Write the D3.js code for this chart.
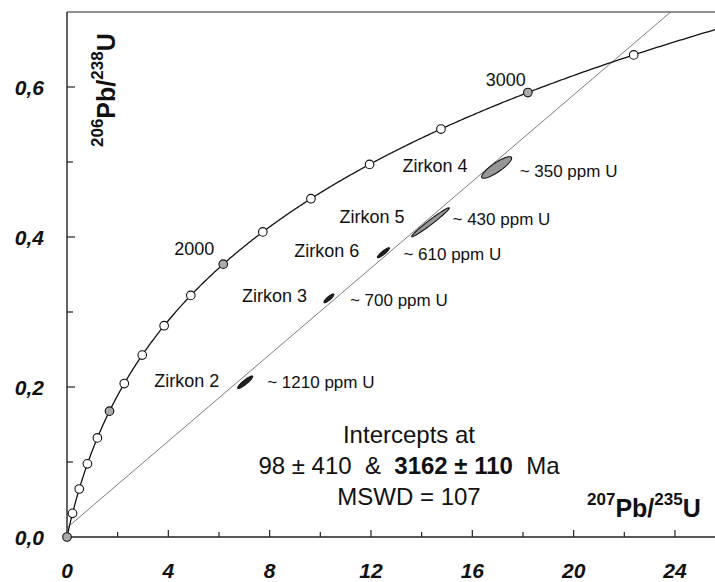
<!DOCTYPE html>
<html>
<head>
<meta charset="utf-8">
<script src="https://cdn.jsdelivr.net/npm/d3@7"></script>
<style>
  html, body { margin: 0; padding: 0; background: #fff; }
  svg { display: block; font-family: "Liberation Sans", Arial, sans-serif; }
</style>
</head>
<body>
<svg id="chart" width="715" height="582"></svg>
<script>
// U-Pb decay constants (per year)
const lambda238 = 1.55125e-10;
const lambda235 = 9.8485e-10;

// Concordia age markers (Ma), filled markers every 1000 Ma
const markerAges = [0, 200, 400, 600, 800, 1000, 1200, 1400, 1600, 1800, 2000,
  2200, 2400, 2600, 2800, 3000, 3200];
const labelledAges = [2000, 3000];

// Zircon analyses: 207Pb/235U, 206Pb/238U, 1-sigma half-extents, error correlation
const zircons = ["Zirkon 2", "Zirkon 3", "Zirkon 6", "Zirkon 5", "Zirkon 4"];
const ratio207_235 = [7.035, 10.34, 12.49, 14.35, 16.96];
const ratio206_238 = [0.2064, 0.3182, 0.379, 0.4197, 0.4927];
const err207_235 = [0.296, 0.197, 0.237, 0.742, 0.592];
const err206_238 = [0.0083, 0.0058, 0.0067, 0.0193, 0.0144];
const errCorr = [0.91, 0.87, 0.91, 0.98, 0.86];
const uranium = [1210, 700, 610, 430, 350];

// Discordia intercepts (Ma) and fit quality
const lowerIntercept = 98, lowerErr = 410;
const upperIntercept = 3162, upperErr = 110;
const mswd = 107;

// Axis ticks
const xTickLabels = [0, 4, 8, 12, 16, 20, 24];
const yTickLabels = [0.0, 0.2, 0.4, 0.6];

const svg = d3.select("#chart");
const W = 715, H = 582;
const mLeft = 67, mTop = 12, mBottom = 537;

const x = d3.scaleLinear().domain([0, 25.58]).range([mLeft, W]);
const y = d3.scaleLinear().domain([0, 0.7]).range([mBottom, mTop]);

const conc = t => [Math.exp(lambda235 * t * 1e6) - 1, Math.exp(lambda238 * t * 1e6) - 1];

svg.append("defs").append("clipPath").attr("id", "plotClip")
  .append("rect").attr("x", mLeft).attr("y", mTop).attr("width", W - mLeft).attr("height", mBottom - mTop);

const plot = svg.append("g").attr("clip-path", "url(#plotClip)");

// Discordia line through the two intercepts, extended across the plot
const pLo = conc(lowerIntercept), pHi = conc(upperIntercept);
const slope = (pHi[1] - pLo[1]) / (pHi[0] - pLo[0]);
const dLine = d => pLo[1] + slope * (d - pLo[0]);
const xEnd = pLo[0] + (0.72 - pLo[1]) / slope;
plot.append("line")
  .attr("x1", x(0)).attr("y1", y(dLine(0)))
  .attr("x2", x(xEnd)).attr("y2", y(dLine(xEnd)))
  .attr("stroke", "#444").attr("stroke-width", 0.7);

// Concordia curve
const curveAges = d3.range(0, 3400, 5);
plot.append("path")
  .datum(curveAges.map(conc))
  .attr("d", d3.line().x(d => x(d[0])).y(d => y(d[1])))
  .attr("fill", "none").attr("stroke", "#111").attr("stroke-width", 1.3);

// Error ellipses
const ellipsePts = i => d3.range(0, 361, 4).map(a => {
  const th = a * Math.PI / 180;
  const r = errCorr[i];
  return [ratio207_235[i] + err207_235[i] * Math.cos(th),
          ratio206_238[i] + err206_238[i] * (r * Math.cos(th) + Math.sqrt(1 - r * r) * Math.sin(th))];
});
plot.selectAll("path.ell").data(zircons).join("path")
  .attr("class", "ell")
  .attr("d", (d, i) => d3.line().x(p => x(p[0])).y(p => y(p[1]))(ellipsePts(i)) + "Z")
  .attr("fill", (d, i) => err207_235[i] > 0.5 ? "#969696" : "#222")
  .attr("stroke", "#111").attr("stroke-width", 1.1);

// Axes frame
const axisColor = "#222";
svg.append("line").attr("x1", mLeft).attr("x2", mLeft).attr("y1", mTop).attr("y2", mBottom)
  .attr("stroke", axisColor).attr("stroke-width", 1.4);
svg.append("line").attr("x1", mLeft).attr("x2", W).attr("y1", mBottom).attr("y2", mBottom)
  .attr("stroke", axisColor).attr("stroke-width", 1.4);
svg.append("line").attr("x1", mLeft).attr("x2", W).attr("y1", mTop).attr("y2", mTop)
  .attr("stroke", axisColor).attr("stroke-width", 1.2);

// Inward ticks
const fmt = d3.format(".1f");
const xTicks = d3.range(0, 26, 2);
svg.selectAll("line.xt").data(xTicks.filter(d => d > 0)).join("line")
  .attr("class", "xt")
  .attr("x1", d => x(d)).attr("x2", d => x(d))
  .attr("y1", mBottom).attr("y2", d => mBottom - (d % 4 === 0 ? 7 : 5))
  .attr("stroke", axisColor).attr("stroke-width", 1.2);
const yTicks = d3.range(1, 7).map(d => d / 10);
svg.selectAll("line.yt").data(yTicks).join("line")
  .attr("class", "yt")
  .attr("x1", mLeft).attr("x2", (d, i) => mLeft + ((i + 1) % 2 === 0 ? 8 : 6))
  .attr("y1", d => y(d)).attr("y2", d => y(d))
  .attr("stroke", axisColor).attr("stroke-width", 1.2);

// Tick labels
svg.selectAll("text.xl").data(xTickLabels).join("text")
  .attr("class", "xl")
  .attr("x", d => x(d)).attr("y", 578)
  .attr("text-anchor", "middle")
  .attr("font-size", 21).attr("font-weight", "bold").attr("font-style", "italic")
  .attr("fill", "#111")
  .text(d => d);
svg.selectAll("text.yl").data(yTickLabels).join("text")
  .attr("class", "yl")
  .attr("x", 44).attr("y", d => y(d)).attr("dy", "0.36em")
  .attr("text-anchor", "end")
  .attr("font-size", 21).attr("font-weight", "bold").attr("font-style", "italic")
  .attr("fill", "#111")
  .text(d => fmt(d).replace(".", ","));

// Concordia age markers
svg.selectAll("circle.age").data(markerAges).join("circle")
  .attr("class", "age")
  .attr("cx", d => x(conc(d)[0])).attr("cy", d => y(conc(d)[1]))
  .attr("r", 4.3)
  .attr("fill", d => d % 1000 === 0 ? "#aaaaaa" : "#fff")
  .attr("stroke", "#111").attr("stroke-width", 1.1);

const ageLabelOffset = [[-9, -9], [-2, -7]];
svg.selectAll("text.agel").data(labelledAges).join("text")
  .attr("class", "agel")
  .attr("x", (d, i) => x(conc(d)[0]) + ageLabelOffset[i][0])
  .attr("y", (d, i) => y(conc(d)[1]) + ageLabelOffset[i][1])
  .attr("text-anchor", "end").attr("font-size", 18).attr("fill", "#111")
  .text(d => d);

// Zircon labels
const nameOffset = [[-26, 5], [-22, 4], [-24, 4], [-26, 1], [-29, 5]];
const ppmOffset = [[22, 6], [21, 8], [20, 7], [22, 3], [23, 10]];
svg.selectAll("text.zn").data(zircons).join("text")
  .attr("class", "zn")
  .attr("x", (d, i) => x(ratio207_235[i]) + nameOffset[i][0])
  .attr("y", (d, i) => y(ratio206_238[i]) + nameOffset[i][1])
  .attr("text-anchor", "end").attr("font-size", 18).attr("fill", "#111")
  .text(d => d);
svg.selectAll("text.zu").data(uranium).join("text")
  .attr("class", "zu")
  .attr("x", (d, i) => x(ratio207_235[i]) + ppmOffset[i][0])
  .attr("y", (d, i) => y(ratio206_238[i]) + ppmOffset[i][1])
  .attr("text-anchor", "start").attr("font-size", 17).attr("fill", "#111")
  .text(d => "~ " + d + " ppm U");

// Axis titles
const yTitle = svg.append("text")
  .attr("transform", "translate(115,147) rotate(-90)")
  .attr("font-weight", "bold").attr("fill", "#111");
yTitle.append("tspan").attr("font-size", 17).attr("dy", -12).text("206");
yTitle.append("tspan").attr("font-size", 25).attr("dy", 12).text("Pb/");
yTitle.append("tspan").attr("font-size", 17).attr("dy", -12).text("238");
yTitle.append("tspan").attr("font-size", 25).attr("dy", 12).text("U");

const xTitle = svg.append("text")
  .attr("x", 587).attr("y", 517)
  .attr("font-weight", "bold").attr("fill", "#111");
xTitle.append("tspan").attr("font-size", 17).attr("dy", -12).text("207");
xTitle.append("tspan").attr("font-size", 25).attr("dy", 12).text("Pb/");
xTitle.append("tspan").attr("font-size", 17).attr("dy", -12).text("235");
xTitle.append("tspan").attr("font-size", 25).attr("dy", 12).text("U");

// Intercept summary
const cx = 409;
const info = svg.append("g").attr("font-size", 24).attr("fill", "#111").attr("text-anchor", "middle");
info.append("text").attr("x", cx).attr("y", 443).text("Intercepts at");
const l2 = info.append("text").attr("x", cx).attr("y", 474).attr("xml:space", "preserve");
l2.append("tspan").text(lowerIntercept + " \u00b1 " + lowerErr + "  &  ");
l2.append("tspan").attr("font-weight", "bold").text(upperIntercept + " \u00b1 " + upperErr);
l2.append("tspan").text("  Ma");
info.append("text").attr("x", cx).attr("y", 505).text("MSWD = " + mswd);
</script>
</body>
</html>
